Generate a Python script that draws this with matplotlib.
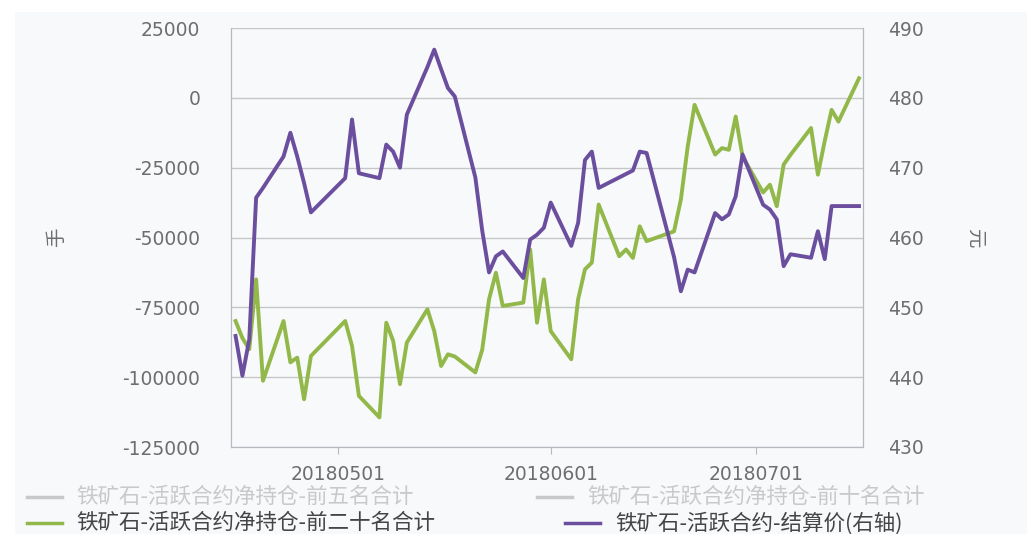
import matplotlib
matplotlib.use("Agg")
import matplotlib.pyplot as plt
import matplotlib.dates as mdates
from matplotlib.lines import Line2D
from matplotlib.patches import Rectangle
from datetime import datetime

plt.rcParams["axes.unicode_minus"] = False

BG = "#f7f9fb"
GREEN = "#92b84a"
PURPLE = "#6b4f9e"
HIDDEN = "#c9c9c9"
TICK_COLOR = "#6e6e6e"
CJK = ["Noto Sans CJK SC", "DejaVu Sans"]

# trading days
dates = [
    "20180416", "20180417", "20180418", "20180419", "20180420",
    "20180423", "20180424", "20180425", "20180426", "20180427",
    "20180502", "20180503", "20180504",
    "20180507", "20180508", "20180509", "20180510", "20180511",
    "20180514", "20180515", "20180516", "20180517", "20180518",
    "20180521", "20180522", "20180523", "20180524", "20180525",
    "20180528", "20180529", "20180530", "20180531", "20180601",
    "20180604", "20180605", "20180606", "20180607", "20180608",
    "20180611", "20180612", "20180613", "20180614", "20180615",
    "20180619", "20180620", "20180621", "20180622",
    "20180625", "20180626", "20180627", "20180628", "20180629",
    "20180702", "20180703", "20180704", "20180705", "20180706",
    "20180709", "20180710", "20180711", "20180712", "20180713",
    "20180716",
]

# 铁矿石-活跃合约净持仓-前二十名合计 (手)
net_top20 = [
    -79900, -86000, -90000, -65000, -101300,
    -79900, -94700, -93000, -107900, -92400,
    -79900, -88800, -106700,
    -114400, -80500, -87000, -102500, -87600,
    -75700, -83500, -96000, -91800, -92600,
    -98300, -90200, -72100, -62600, -74500,
    -73300, -54300, -80500, -65000, -83500,
    -93600, -72100, -61400, -59000, -38200,
    -56700, -54300, -57300, -46000, -51300,
    -47800, -36400, -17400, -2500,
    -20300, -18000, -18600, -6700, -21000,
    -33900, -31100, -38800, -23900, -20400,
    -10800, -27500, -15400, -4300, -8500,
    7000,
]

# 铁矿石-活跃合约-结算价 (元, 右轴)
settle = [
    445.9, 440.2, 445.4, 465.7, 467.1,
    471.6, 475.0, 471.6, 467.8, 463.6,
    468.5, 476.9, 469.2,
    468.5, 473.3, 472.3, 470.0, 477.6,
    484.4, 486.9, 484.1, 481.4, 480.2,
    468.6, 461.0, 455.0, 457.3, 458.0,
    454.2, 459.7, 460.4, 461.4, 465.0,
    458.8, 462.1, 471.1, 472.3, 467.1,
    468.6, 469.1, 469.6, 472.3, 472.1,
    457.2, 452.3, 455.4, 455.0,
    463.5, 462.6, 463.3, 465.9, 471.9,
    464.7, 464.0, 462.6, 455.9, 457.6,
    457.1, 460.9, 456.9, 464.5, 464.5,
    464.5,
]

x_ticks = ["20180501", "20180601", "20180701"]
left_ticks = [25000, 0, -25000, -50000, -75000, -100000, -125000]
right_ticks = [490, 480, 470, 460, 450, 440, 430]

legend_labels = [
    "铁矿石-活跃合约净持仓-前五名合计",
    "铁矿石-活跃合约净持仓-前十名合计",
    "铁矿石-活跃合约净持仓-前二十名合计",
    "铁矿石-活跃合约-结算价(右轴)",
]
legend_colors = [HIDDEN, HIDDEN, GREEN, PURPLE]
legend_text_colors = [HIDDEN, HIDDEN, "#454545", "#454545"]

W, H = 1027, 534
fig = plt.figure(figsize=(W / 100, H / 100), dpi=100, facecolor="white")
fig.patches.append(Rectangle((15 / W, 0), 1, 1 - 12 / H, transform=fig.transFigure,
                             facecolor=BG, edgecolor="none", zorder=-10))

ax = fig.add_axes([231 / W, 1 - 447 / H, (863 - 231) / W, (447 - 28) / H])
ax.set_facecolor(BG)
ax2 = ax.twinx()

x = [datetime.strptime(d, "%Y%m%d") for d in dates]
ax.plot(x, net_top20, color=GREEN, lw=2.8)
ax2.plot(x, settle, color=PURPLE, lw=2.8)

ax.set_ylim(-125000, 25000)
ax2.set_ylim(430, 490)
ax.set_xlim(datetime(2018, 4, 15, 8), datetime(2018, 7, 16, 14))

ax.set_yticks(left_ticks)
ax2.set_yticks(right_ticks)
ax.set_xticks([datetime.strptime(t, "%Y%m%d") for t in x_ticks])
ax.xaxis.set_major_formatter(mdates.DateFormatter("%Y%m%d"))

ax.grid(axis="y", color="#c6c6c6", lw=1)
ax.set_axisbelow(True)

for a in (ax, ax2):
    for side in ("left", "right", "bottom"):
        a.spines[side].set_color("#b8b8c0")
    a.spines["top"].set_visible(False)

ax.tick_params(axis="y", length=0, pad=22, labelsize=13.5, labelcolor=TICK_COLOR)
ax2.tick_params(axis="y", length=0, pad=18, labelsize=13.5, labelcolor=TICK_COLOR)
ax.tick_params(axis="x", length=5, color="#b8b8c0", pad=8, labelsize=13.5,
               labelcolor=TICK_COLOR)

ax.set_ylabel("手", family=CJK, fontsize=14, color=TICK_COLOR, rotation=90, labelpad=40)
ax2.set_ylabel("元", family=CJK, fontsize=14, color=TICK_COLOR, rotation=270, labelpad=44)

# legend, two rows; the first two series are switched off in the source chart
entries = [
    (legend_labels[0], legend_colors[0], legend_text_colors[0], 497, (27, 62), 76),
    (legend_labels[1], legend_colors[1], legend_text_colors[1], 497, (537, 572), 587),
    (legend_labels[2], legend_colors[2], legend_text_colors[2], 523, (27, 62), 76),
    (legend_labels[3], legend_colors[3], legend_text_colors[3], 523, (565, 600), 615),
]
for label, lc, tc, yy, (x0, x1), tx in entries:
    fy = 1 - yy / H
    fig.add_artist(Line2D([x0 / W, x1 / W], [fy, fy], transform=fig.transFigure,
                          color=lc, lw=2.5))
    fig.text(tx / W, fy, label, family=CJK, fontsize=15.5, color=tc, va="center", ha="left")

fig.savefig("out.png", dpi=100, facecolor=fig.get_facecolor())
